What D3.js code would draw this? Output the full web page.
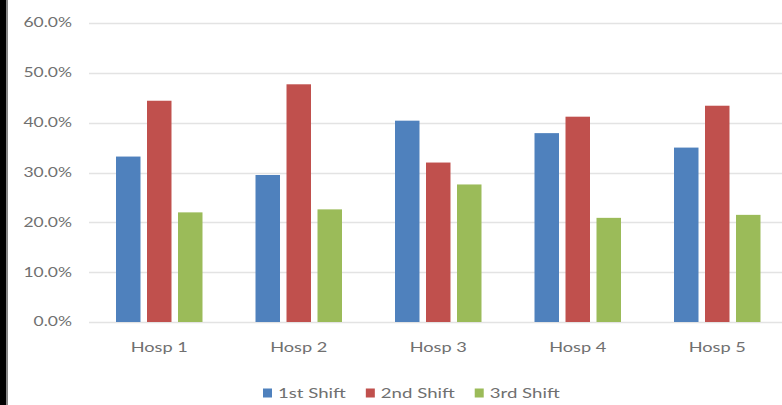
<!DOCTYPE html>
<html>
<head>
<meta charset="utf-8">
<script src="https://cdn.jsdelivr.net/npm/d3@7"></script>
<style>
  html, body { margin: 0; padding: 0; background: #fff; }
  svg { display: block; }
  text { font-family: Lato, "Open Sans", sans-serif; fill: #707070; }
</style>
</head>
<body>
<svg id="chart" width="782" height="405"></svg>
<script>
// Share of incidents per hospital, split by shift
const hospitals = ["Hosp 1", "Hosp 2", "Hosp 3", "Hosp 4", "Hosp 5"];
const shifts = ["1st Shift", "2nd Shift", "3rd Shift"];
const shift1 = [0.332, 0.295, 0.404, 0.379, 0.350];
const shift2 = [0.444, 0.477, 0.320, 0.412, 0.434];
const shift3 = [0.220, 0.226, 0.276, 0.209, 0.215];
const yTicks = [0, 0.1, 0.2, 0.3, 0.4, 0.5, 0.6];
const colors = ["#4F81BD", "#C0504D", "#9BBB59"];

const seriesValues = [shift1, shift2, shift3];
const rows = hospitals.map((h, i) => ({
  hosp: h,
  values: shifts.map((s, j) => ({ shift: s, value: seriesValues[j][i] }))
}));

const W = 782, H = 405;
const svg = d3.select("#chart");
const textStretch = 1.4;

// frame edge on the left
svg.append("rect").attr("x", 0).attr("y", 0).attr("width", 6).attr("height", H).attr("fill", "#000");
svg.append("rect").attr("x", 6).attr("y", 0).attr("width", 2).attr("height", H).attr("fill", "#888");

const y = d3.scaleLinear().domain([0, 0.6]).range([322, 23]);
const x0 = d3.scaleBand().domain(hospitals).range([89.5, 787])
  .paddingInner(0.38).paddingOuter(0.19);
const x1 = d3.scaleBand().domain(shifts).range([0, x0.bandwidth()])
  .paddingInner(0.21).paddingOuter(0);
const color = d3.scaleOrdinal().domain(shifts).range(colors);

// gridlines
svg.append("g").selectAll("line").data(yTicks).join("line")
  .attr("x1", 89).attr("x2", W)
  .attr("y1", d => Math.round(y(d)) + 0.5).attr("y2", d => Math.round(y(d)) + 0.5)
  .attr("stroke", "#e3e3e3").attr("stroke-width", 1.5);

// y tick labels
const fmt = d3.format(".1%");
svg.append("g").selectAll("text").data(yTicks).join("text")
  .attr("transform", d => `translate(72,${y(d)}) scale(${textStretch},1)`)
  .attr("text-anchor", "end").attr("dy", "0.35em")
  .style("font-size", "12.5px")
  .text(d => fmt(d));

// bars
svg.append("g").selectAll("g").data(rows).join("g")
  .attr("transform", d => `translate(${x0(d.hosp)},0)`)
  .selectAll("rect").data(d => d.values).join("rect")
  .attr("x", d => x1(d.shift))
  .attr("width", x1.bandwidth())
  .attr("y", d => y(d.value))
  .attr("height", d => y(0) - y(d.value))
  .attr("fill", d => color(d.shift));

// category labels
svg.append("g").selectAll("text").data(hospitals).join("text")
  .attr("transform", d => `translate(${x0(d) + x0.bandwidth() / 2},347) scale(${textStretch},1)`)
  .attr("text-anchor", "middle").attr("dy", "0.35em")
  .style("font-size", "13px")
  .text(d => d);

// legend
const legend = svg.append("g");
let lx = 263;
shifts.forEach(s => {
  legend.append("rect").attr("x", lx).attr("y", 388.5).attr("width", 9).attr("height", 9)
    .attr("fill", color(s));
  const t = legend.append("text")
    .attr("transform", `translate(${lx + 15},393.5) scale(${textStretch},1)`)
    .attr("dy", "0.35em").style("font-size", "13.3px").text(s);
  const w = t.node().getComputedTextLength() * textStretch;
  lx += 15 + w + 20;
});
</script>
</body>
</html>
